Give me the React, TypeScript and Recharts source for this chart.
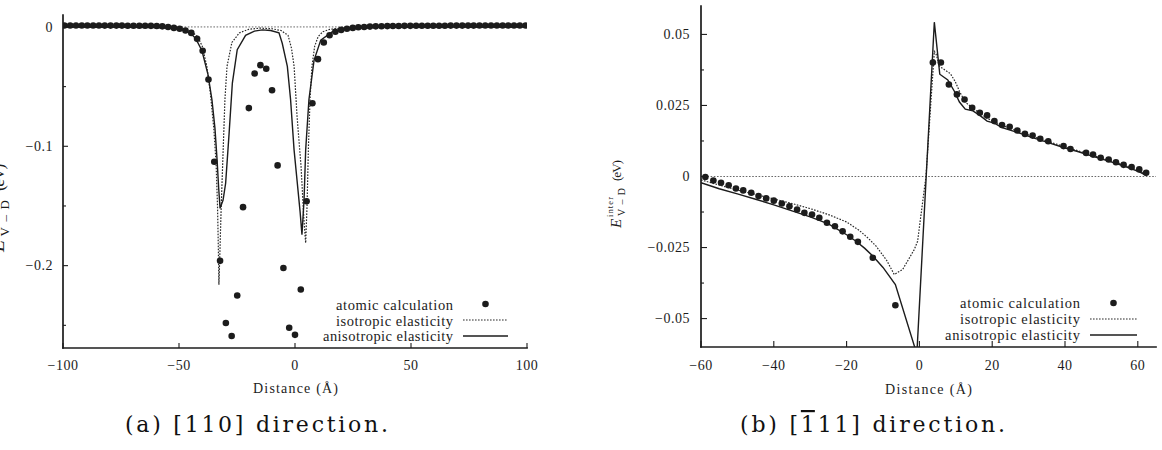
import React from 'react';
import { ComposedChart, Line, Scatter, XAxis, YAxis, ReferenceLine } from 'recharts';

type Pt = [number, number];

// ---------- [110] direction: interaction energy (eV) vs distance (Å) ----------
const atomic110: Pt[] = [
  [-99.4, 0.0012], [-96.9, 0.0012], [-94.4, 0.0012], [-91.9, 0.0012], [-89.5, 0.0012], [-87.0, 0.0012],
  [-84.5, 0.0012], [-82.0, 0.0011], [-79.5, 0.0011], [-77.0, 0.0011], [-74.6, 0.0011], [-72.1, 0.001],
  [-69.6, 0.001], [-67.1, 0.001], [-64.6, 0.001], [-62.1, 0.0009], [-59.6, 0.0008], [-57.2, 0.0005],
  [-54.7, 0.0], [-52.2, -0.0008], [-49.7, -0.0015], [-47.2, -0.003], [-44.7, -0.005], [-42.2, -0.01],
  [-39.8, -0.02], [-37.3, -0.044], [-34.8, -0.113], [-32.3, -0.196], [-29.8, -0.248], [-27.3, -0.259],
  [-24.9, -0.225], [-22.4, -0.151], [-19.9, -0.068], [-17.4, -0.039], [-14.9, -0.032], [-12.4, -0.035],
  [-9.9, -0.053], [-7.5, -0.116], [-5.0, -0.202], [-2.5, -0.252], [0, -0.258], [2.5, -0.22],
  [5.0, -0.146], [7.5, -0.064], [9.9, -0.027], [12.4, -0.013], [14.9, -0.007], [17.4, -0.004],
  [19.9, -0.0025], [22.4, -0.0015], [24.9, -0.0008], [27.3, -0.0003], [29.8, 0], [32.3, 0.0003],
  [34.8, 0.0005], [37.3, 0.0006], [39.8, 0.0007], [42.2, 0.0008], [44.7, 0.0008], [47.2, 0.0009],
  [49.7, 0.0009], [52.2, 0.001], [54.7, 0.001], [57.2, 0.001], [59.6, 0.001], [62.1, 0.001],
  [64.6, 0.001], [67.1, 0.0011], [69.6, 0.0011], [72.1, 0.0011], [74.6, 0.0011], [77.0, 0.0011],
  [79.5, 0.0012], [82.0, 0.0012], [84.5, 0.0012], [87.0, 0.0012], [89.5, 0.0012], [91.9, 0.0012],
  [94.4, 0.0012], [96.9, 0.0012], [99.4, 0.0012],
];

const iso110: Pt[] = [
  [-100, 0], [-60, -0.0003], [-50, -0.001], [-47, -0.002], [-44, -0.005], [-42, -0.008], [-40, -0.016],
  [-38, -0.033], [-36.5, -0.055], [-35, -0.085], [-34, -0.115], [-33.4, -0.15], [-33.0, -0.19],
  [-32.8, -0.216], [-32.4, -0.19], [-31.8, -0.15], [-31.0, -0.105], [-30.2, -0.061], [-29.3, -0.033],
  [-27.2, -0.013], [-24, -0.005], [-20, -0.002], [-15, -0.001], [-10, -0.0015], [-6, -0.003],
  [-3, -0.007], [-1.5, -0.018], [-0.4, -0.033], [0.9, -0.075], [2.6, -0.117], [3.8, -0.16],
  [4.6, -0.181], [5.2, -0.15], [5.8, -0.1], [6.5, -0.06], [7.3, -0.033], [8.5, -0.016], [10, -0.008],
  [12, -0.004], [15, -0.002], [20, -0.001], [40, -0.0003], [100, 0],
];

const aniso110: Pt[] = [
  [-100, 0], [-70, -0.0003], [-60, -0.0006], [-55, -0.001], [-50, -0.0017], [-47, -0.0035],
  [-44.7, -0.006], [-42.7, -0.01], [-40.1, -0.02], [-37.5, -0.04], [-35.8, -0.061], [-34.5, -0.085],
  [-33.6, -0.111], [-32.9, -0.135], [-32.3, -0.152], [-31.0, -0.145], [-29.9, -0.131], [-28.4, -0.089],
  [-27.0, -0.047], [-24.9, -0.019], [-21.3, -0.007], [-17.5, -0.0035], [-14.1, -0.0025], [-10.5, -0.003],
  [-6.9, -0.005], [-5.5, -0.0137], [-3.3, -0.033], [-1.9, -0.061], [-0.4, -0.103], [1.0, -0.131],
  [2.2, -0.155], [3.0, -0.174], [3.9, -0.145], [4.6, -0.103], [6.0, -0.061], [8.2, -0.028],
  [11.1, -0.011], [16.1, -0.004], [24.7, -0.001], [36, -0.0003], [60, 0], [100, 0],
];

// ---------- [-111] direction ----------
const atomic111: Pt[] = [
  [-58.8, -0.0002], [-56.6, -0.0014], [-54.5, -0.0022], [-52.4, -0.0031], [-50.4, -0.0042],
  [-48.4, -0.0049], [-46.2, -0.0057], [-44.2, -0.0069], [-42.1, -0.0077], [-40.0, -0.0085],
  [-37.8, -0.0095], [-35.7, -0.0105], [-33.6, -0.0116], [-31.6, -0.0128], [-29.5, -0.0134],
  [-27.5, -0.0145], [-25.4, -0.0163], [-23.2, -0.0175], [-21.1, -0.0193], [-19.0, -0.0212],
  [-16.9, -0.023], [-12.8, -0.0286], [-6.6, -0.0453], [3.7, 0.0401], [5.9, 0.0401], [8.1, 0.0324],
  [10.3, 0.0289], [12.4, 0.0271], [14.5, 0.0242], [16.6, 0.0224], [18.6, 0.0215], [20.6, 0.0195],
  [22.7, 0.0181], [24.8, 0.0175], [26.9, 0.0162], [29.0, 0.015], [31.1, 0.0144], [33.2, 0.0133],
  [35.4, 0.0124], [39.6, 0.0107], [41.5, 0.0097], [45.8, 0.0083], [47.7, 0.0077], [49.8, 0.0066],
  [52.0, 0.006], [54.0, 0.005], [56.1, 0.0041], [58.3, 0.0033], [60.4, 0.0025], [62.3, 0.0013],
];

const iso111: Pt[] = [
  [-60, -0.0012], [-55, -0.003], [-50, -0.0048], [-45, -0.0063], [-40, -0.0079], [-35, -0.0095],
  [-30, -0.0113], [-25, -0.0134], [-20, -0.016], [-16.5, -0.019], [-14, -0.0218], [-11.9, -0.0245],
  [-9, -0.0295], [-6.9, -0.0345], [-4.6, -0.0327], [-1.4, -0.0257], [-0.5, -0.0228], [1.8, 0],
  [3.2, 0.027], [4.1, 0.044], [4.6, 0.043], [5.5, 0.0388], [7.0, 0.0375], [8.5, 0.0362],
  [9.8, 0.0335], [11.0, 0.03], [12.6, 0.0262], [14.7, 0.024], [18.6, 0.0205], [22.7, 0.018],
  [26.9, 0.016], [31.1, 0.0141], [35.4, 0.0123], [39.6, 0.0106], [43.7, 0.009], [47.9, 0.0073],
  [52.0, 0.0057], [56.2, 0.004], [60.3, 0.0021], [62.4, 0.0005],
];

const aniso111: Pt[] = [
  [-60, -0.0022], [-55, -0.0043], [-50, -0.0061], [-45, -0.008], [-40, -0.01], [-35, -0.0121],
  [-30, -0.0142], [-25, -0.0167], [-20, -0.0205], [-17.4, -0.0228], [-15, -0.0253], [-12.8, -0.028],
  [-10, -0.032], [-6.6, -0.038], [-0.7, -0.0625], [4.1, 0.0543], [5.6, 0.036], [7.8, 0.034],
  [9.6, 0.03], [11.0, 0.0262], [12.6, 0.0237], [14.7, 0.0231], [16.6, 0.0215], [18.6, 0.0195],
  [20.6, 0.0188], [22.7, 0.0172], [26.9, 0.0155], [31.1, 0.0137], [35.4, 0.0119], [39.6, 0.0102],
  [43.7, 0.0087], [47.9, 0.007], [52.0, 0.0054], [56.2, 0.0037], [60.3, 0.0017], [62.4, 0.0003],
];

// ---------- axes ----------
const xTicks110 = [-100, -50, 0, 50, 100];
const yMajor110 = [0, -0.1, -0.2];
const yMinor110 = [-0.05, -0.15, -0.25];
const xTicks111 = [-60, -40, -20, 0, 20, 40, 60];
const yMajor111 = [0.05, 0.025, 0, -0.025, -0.05];
const yMinor111 = [0.0375, 0.0125, -0.0125, -0.0375];

const legendLabels = ['atomic calculation', 'isotropic elasticity', 'anisotropic elasticity'];
const xTitle = 'Distance  (\u00C5)';

const INK = '#1c1c1c';
const SERIF = '"Liberation Serif", Tinos, "DejaVu Serif", serif';
const CAPTION_FONT = '"DejaVu Serif", "Liberation Serif", serif';

const rows = (pts: Pt[]) => pts.map(([x, y]) => ({ x, y }));
const fmt = (v: number) => (v < 0 ? '\u2212' + String(-v) : String(v));

type Side = 'left' | 'right' | 'top' | 'bottom';

// gnuplot-style ticks: drawn inward from the border, labels outside
function makeTick(side: Side, major: number[], len: number, minorLen: number, gap: number | null) {
  return (p: any) => {
    const v: number = p.payload.value;
    const isMajor = major.some((m) => Math.abs(m - v) < 1e-9);
    const L = isMajor ? len : minorLen;
    const x = p.x;
    const y = p.y;
    const x2 = side === 'left' ? x + L : side === 'right' ? x - L : x;
    const y2 = side === 'bottom' ? y - L : side === 'top' ? y + L : y;
    let label: React.ReactNode = null;
    if (gap !== null && isMajor) {
      label =
        side === 'left' ? (
          <text x={x - gap} y={y} dy="0.34em" textAnchor="end" style={{ fontFamily: SERIF }} fontSize={14}
            letterSpacing={0.5} fill={INK}>{fmt(v)}</text>
        ) : (
          <text x={x} y={y + gap} textAnchor="middle" style={{ fontFamily: SERIF }} fontSize={14}
            letterSpacing={0.5} fill={INK}>{fmt(v)}</text>
        );
    }
    return (
      <g>
        <line x1={x} y1={y} x2={x2} y2={y2} stroke={INK} strokeWidth={1.1} />
        {label}
      </g>
    );
  };
}

const dotShape = (p: any) => <circle cx={p.cx} cy={p.cy} r={3.3} fill={INK} />;
const frame = { stroke: INK, strokeWidth: 1.7, strokeLinecap: 'square' as const };

type PanelProps = {
  width: number;
  height: number;
  margin: { top: number; right: number; bottom: number; left: number };
  yAxisWidth: number;
  xAxisHeight: number;
  xDomain: [number, number];
  yDomain: [number, number];
  xTicks: number[];
  yMajor: number[];
  yMinor: number[];
  tickLen: number;
  yGap: number;
  xGap: number;
  atomic: Pt[];
  iso: Pt[];
  aniso: Pt[];
};

function Panel(props: PanelProps) {
  const { xDomain, yDomain, xTicks, yMajor, yMinor, tickLen, atomic, iso, aniso } = props;
  const yTicks = [...yMajor, ...yMinor];
  return (
    <ComposedChart width={props.width} height={props.height} margin={props.margin}>
      <XAxis xAxisId="b" type="number" dataKey="x" domain={xDomain} allowDataOverflow ticks={xTicks}
        interval={0} height={props.xAxisHeight} tickSize={0} tickMargin={0} tickLine={false}
        axisLine={frame} tick={makeTick('bottom', xTicks, tickLen, 3, props.xGap)} />
      <XAxis xAxisId="t" orientation="top" type="number" dataKey="x" domain={xDomain} allowDataOverflow
        ticks={xTicks} interval={0} height={0} tickSize={0} tickMargin={0} tickLine={false}
        axisLine={frame} tick={makeTick('top', xTicks, tickLen, 3, null)} />
      <YAxis yAxisId="l" type="number" dataKey="y" domain={yDomain} allowDataOverflow ticks={yTicks}
        interval={0} width={props.yAxisWidth} tickSize={0} tickMargin={0} tickLine={false}
        axisLine={frame} tick={makeTick('left', yMajor, tickLen, 3, props.yGap)} />
      <YAxis yAxisId="r" orientation="right" type="number" dataKey="y" domain={yDomain} allowDataOverflow
        ticks={yTicks} interval={0} width={0} tickSize={0} tickMargin={0} tickLine={false}
        axisLine={frame} tick={makeTick('right', yMajor, tickLen, 3, null)} />
      <ReferenceLine xAxisId="b" yAxisId="l" y={0} stroke="#6a6a6a" strokeWidth={1}
        strokeDasharray="1.6 1.6" />
      <Line xAxisId="b" yAxisId="l" data={rows(iso)} dataKey="y" type="linear" stroke="#2a2a2a"
        strokeWidth={1.2} strokeDasharray="1.6 1.4" dot={false} activeDot={false}
        isAnimationActive={false} />
      <Line xAxisId="b" yAxisId="l" data={rows(aniso)} dataKey="y" type="linear" stroke={INK}
        strokeWidth={1.4} dot={false} activeDot={false} isAnimationActive={false} />
      <Scatter xAxisId="b" yAxisId="l" data={rows(atomic)} dataKey="y" shape={dotShape}
        isAnimationActive={false} />
    </ComposedChart>
  );
}

function LegendBlock({ textEnd, sampleX0, sampleX1, rowsY, baselines, lengths }: {
  textEnd: number; sampleX0: number; sampleX1: number; rowsY: number[]; baselines: number[]; lengths: number[];
}) {
  return (
    <g>
      {legendLabels.map((t, i) => (
        <text key={t} x={textEnd} y={baselines[i]} textAnchor="end" fontSize={14.5}
          textLength={lengths[i]} lengthAdjust="spacing" fill={INK}>{t}</text>
      ))}
      <circle cx={(sampleX0 + sampleX1) / 2} cy={rowsY[0]} r={3.3} fill={INK} />
      <line x1={sampleX0} x2={sampleX1} y1={rowsY[1]} y2={rowsY[1]} stroke="#2a2a2a" strokeWidth={1.2}
        strokeDasharray="1.6 1.4" />
      <line x1={sampleX0} x2={sampleX1} y1={rowsY[2]} y2={rowsY[2]} stroke={INK} strokeWidth={1.5} />
    </g>
  );
}

function EnergyLabel({ x, y, scale }: { x: number; y: number; scale: number }) {
  return (
    <g transform={`translate(${x},${y}) rotate(-90) scale(${scale})`} fill={INK}>
      <text x={0} y={0} fontSize={15} fontStyle="italic">E</text>
      <text x={11} y={-8} fontSize={8.5} textLength={20}>inter</text>
      <text x={12} y={4} fontSize={10} textLength={28}>V{'\u2013'}D</text>
      <text x={47} y={0} fontSize={13.5} textLength={21}>(eV)</text>
    </g>
  );
}

export default function App() {
  return (
    <div style={{ position: 'absolute', left: 0, top: 0, width: 1162, height: 450, background: '#fff', overflow: 'hidden', fontFamily: SERIF }}>
      <div style={{ position: 'absolute', left: 0, top: 0 }}>
        <Panel width={580} height={450} margin={{ top: 15, right: 53, bottom: 0, left: 0 }}
          yAxisWidth={63} xAxisHeight={102} xDomain={[-100, 100]} yDomain={[-0.269, 0.01]}
          xTicks={xTicks110} yMajor={yMajor110} yMinor={yMinor110} tickLen={5} yGap={10} xGap={22}
          atomic={atomic110} iso={iso110} aniso={aniso110} />
      </div>
      <div style={{ position: 'absolute', left: 581, top: 0 }}>
        <Panel width={581} height={450} margin={{ top: 6, right: 6, bottom: 0, left: 0 }}
          yAxisWidth={120} xAxisHeight={103} xDomain={[-60, 65]} yDomain={[-0.06, 0.06]}
          xTicks={xTicks111} yMajor={yMajor111} yMinor={yMinor111} tickLen={6} yGap={11} xGap={23}
          atomic={atomic111} iso={iso111} aniso={aniso111} />
      </div>
      <svg width={1162} height={450}
        style={{ position: 'absolute', left: 0, top: 0, pointerEvents: 'none', fontFamily: SERIF }}>
        <LegendBlock textEnd={453} sampleX0={463} sampleX1={508} rowsY={[304, 320, 336]}
          baselines={[310, 326, 341]} lengths={[117, 117, 130]} />
        <LegendBlock textEnd={1080} sampleX0={1090} sampleX1={1137} rowsY={[303, 319, 335]}
          baselines={[308, 324, 340]} lengths={[120, 120, 135]} />

        <text x={295.5} y={393} textAnchor="middle" fontSize={14} textLength={85}
          fill={INK}>{xTitle}</text>
        <text x={928.5} y={394} textAnchor="middle" fontSize={14} textLength={87}
          fill={INK}>{xTitle}</text>

        <EnergyLabel x={4} y={252} scale={1.3} />
        <EnergyLabel x={621} y={228} scale={1} />

        <text x={125} y={432} style={{ fontFamily: CAPTION_FONT }} fontSize={22} textLength={263}
          lengthAdjust="spacing" fill="#111">(a) [110] direction.</text>
        <text x={740} y={432} style={{ fontFamily: CAPTION_FONT }} fontSize={22} textLength={265}
          lengthAdjust="spacing" fill="#111">
          (b) [<tspan style={{ textDecoration: 'overline' }}>1</tspan>11] direction.
        </text>
      </svg>
    </div>
  );
}
